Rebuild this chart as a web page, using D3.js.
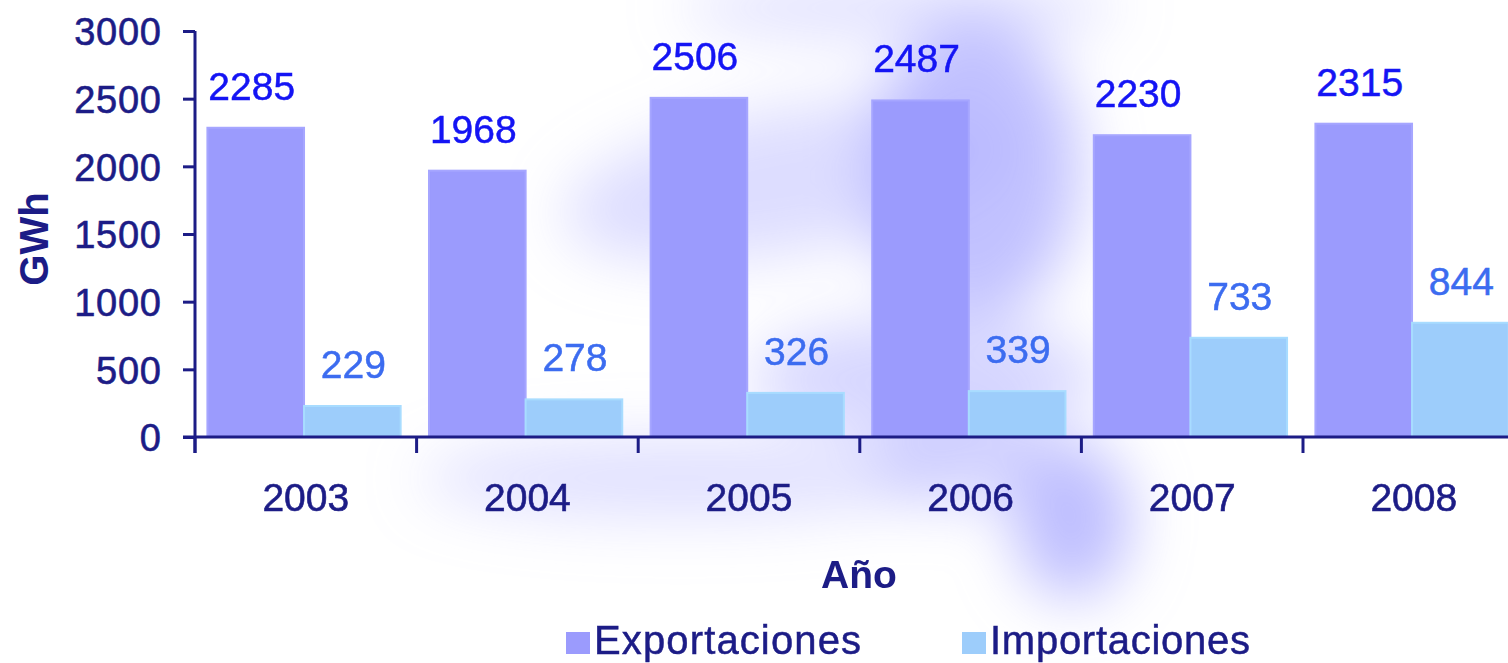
<!DOCTYPE html>
<html>
<head>
<meta charset="utf-8">
<script src="https://cdn.jsdelivr.net/npm/d3@7"></script>
<style>
  html, body { margin: 0; padding: 0; background: #ffffff; }
  svg { display: block; }
  text { font-family: "Liberation Sans", Arial, sans-serif; }
</style>
</head>
<body>
<svg id="chart" width="1508" height="663"></svg>
<script>
// Electricity trade, GWh per year
const years = ["2003", "2004", "2005", "2006", "2007", "2008"];
const exportaciones = [2285, 1968, 2506, 2487, 2230, 2315];
const importaciones = [229, 278, 326, 339, 733, 844];
const seriesNames = ["Exportaciones", "Importaciones"];
const yTicks = [0, 500, 1000, 1500, 2000, 2500, 3000];

const W = 1508, H = 663;
const margin = { left: 195, top: 31, bottom: 437 };
const navy = "#1c1c86";
const colors = { Exportaciones: "#9b9bfd", Importaciones: "#9dcdfb" };
const labelColors = { Exportaciones: "#1414f4", Importaciones: "#3c6cf0" };

const svg = d3.select("#chart");

// soft lavender backdrop shape behind the plot
const defs = svg.append("defs");
defs.append("filter").attr("id", "soft")
  .attr("x", "-50%").attr("y", "-50%").attr("width", "200%").attr("height", "200%")
  .append("feGaussianBlur").attr("stdDeviation", 30);

const blobs = [
  { cx: 975, cy: 170, rx: 105, ry: 150, o: 0.75, r: 0 },
  { cx: 790, cy: 180, rx: 230, ry: 72, o: 0.42, r: -10 },
  { cx: 900, cy: 8, rx: 220, ry: 30, o: 0.4, r: 0 },
  { cx: 925, cy: 378, rx: 175, ry: 58, o: 0.5, r: 0 },
  { cx: 1072, cy: 520, rx: 58, ry: 78, o: 0.8, r: 0 },
  { cx: 680, cy: 478, rx: 260, ry: 40, o: 0.38, r: 0 },
  { cx: 965, cy: 462, rx: 95, ry: 42, o: 0.55, r: 0 }
];
svg.append("g").attr("filter", "url(#soft)")
  .selectAll("ellipse").data(blobs).join("ellipse")
  .attr("transform", d => `translate(${d.cx},${d.cy}) rotate(${d.r})`)
  .attr("rx", d => d.rx).attr("ry", d => d.ry)
  .attr("fill", "#aeaeff").attr("fill-opacity", d => d.o);

// scales
const x0 = d3.scaleBand().domain(years)
  .range([margin.left, margin.left + 221.6 * years.length]).padding(0);
const bw = x0.bandwidth();
const x1 = d3.scaleBand().domain(seriesNames).range([bw * 0.056, bw * 0.928]).padding(0);
const y = d3.scaleLinear().domain([0, 3000]).range([margin.bottom, margin.top]);

const rows = years.map((yr, i) => ({
  year: yr,
  values: [
    { key: "Exportaciones", value: exportaciones[i] },
    { key: "Importaciones", value: importaciones[i] }
  ]
}));

// bars
const groups = svg.append("g").selectAll("g").data(rows).join("g")
  .attr("transform", d => `translate(${x0(d.year)},0)`);

groups.selectAll("rect").data(d => d.values).join("rect")
  .attr("x", d => x1(d.key))
  .attr("y", d => y(d.value))
  .attr("width", x1.bandwidth())
  .attr("height", d => y(0) - y(d.value))
  .attr("fill", d => colors[d.key])
  .attr("stroke", d => d.key === "Exportaciones" ? "#a6a6ff" : "#a8dcff")
  .attr("stroke-width", 2);

// value labels
groups.selectAll("text").data(d => d.values).join("text")
  .attr("x", d => x1(d.key) + x1.bandwidth() / 2 + (d.key === "Exportaciones" ? -4 : 1))
  .attr("y", d => y(d.value) - 28)
  .attr("text-anchor", "middle")
  .attr("font-size", 39)
  .attr("fill", d => labelColors[d.key])
  .attr("stroke", d => labelColors[d.key]).attr("stroke-width", 0.5)
  .text(d => d.value);

// y axis
const yAxis = svg.append("g").attr("transform", `translate(${margin.left},0)`)
  .call(d3.axisLeft(y).tickValues(yTicks).tickSize(12).tickPadding(22).tickFormat(d3.format("d")));
yAxis.select(".domain").attr("d", `M0,${margin.top}V${margin.bottom + 16}`)
  .attr("stroke", navy).attr("stroke-width", 3);
yAxis.selectAll(".tick line").attr("stroke", navy).attr("stroke-width", 3);
yAxis.selectAll(".tick text").attr("font-size", 38).attr("fill", navy)
  .attr("stroke", navy).attr("stroke-width", 0.6)
  .attr("font-family", "Liberation Sans, Arial, sans-serif").attr("dy", "0.36em")
  .attr("textLength", d => String(d).length * 21.7);

// x axis
const xAxisG = svg.append("g").attr("transform", `translate(0,${margin.bottom})`);
xAxisG.append("line")
  .attr("x1", margin.left - 12).attr("x2", W)
  .attr("stroke", navy).attr("stroke-width", 3);
const boundaries = years.map(yr => x0(yr)).concat([x0(years[years.length - 1]) + bw]);
xAxisG.selectAll("line.tick").data(boundaries).join("line")
  .attr("class", "tick")
  .attr("x1", d => d).attr("x2", d => d)
  .attr("y1", 0).attr("y2", 16)
  .attr("stroke", navy).attr("stroke-width", 3);
xAxisG.selectAll("text").data(years).join("text")
  .attr("x", d => x0(d) + bw / 2)
  .attr("y", 74)
  .attr("text-anchor", "middle")
  .attr("font-size", 39)
  .attr("fill", navy)
  .attr("stroke", navy).attr("stroke-width", 0.6)
  .text(d => d);

// axis titles
svg.append("text")
  .attr("x", 859).attr("y", 588)
  .attr("text-anchor", "middle")
  .attr("font-size", 39).attr("font-weight", "bold")
  .attr("fill", navy)
  .text("Año");

svg.append("text")
  .attr("transform", "translate(48,239) rotate(-90)")
  .attr("text-anchor", "middle")
  .attr("font-size", 40).attr("font-weight", "bold")
  .attr("fill", navy)
  .text("GWh");

// legend
const legend = svg.append("g");
const legendItems = [
  { key: "Exportaciones", x: 566, len: 267 },
  { key: "Importaciones", x: 962, len: 260 }
];
const li = legend.selectAll("g").data(legendItems).join("g")
  .attr("transform", d => `translate(${d.x},0)`);
li.append("rect")
  .attr("x", 0).attr("y", 632).attr("width", 24).attr("height", 22)
  .attr("fill", d => colors[d.key]);
li.append("text")
  .attr("x", 28).attr("y", 654)
  .attr("font-size", 40)
  .attr("fill", navy)
  .attr("stroke", navy).attr("stroke-width", 0.5)
  .attr("textLength", d => d.len)
  .text(d => d.key);
</script>
</body>
</html>
